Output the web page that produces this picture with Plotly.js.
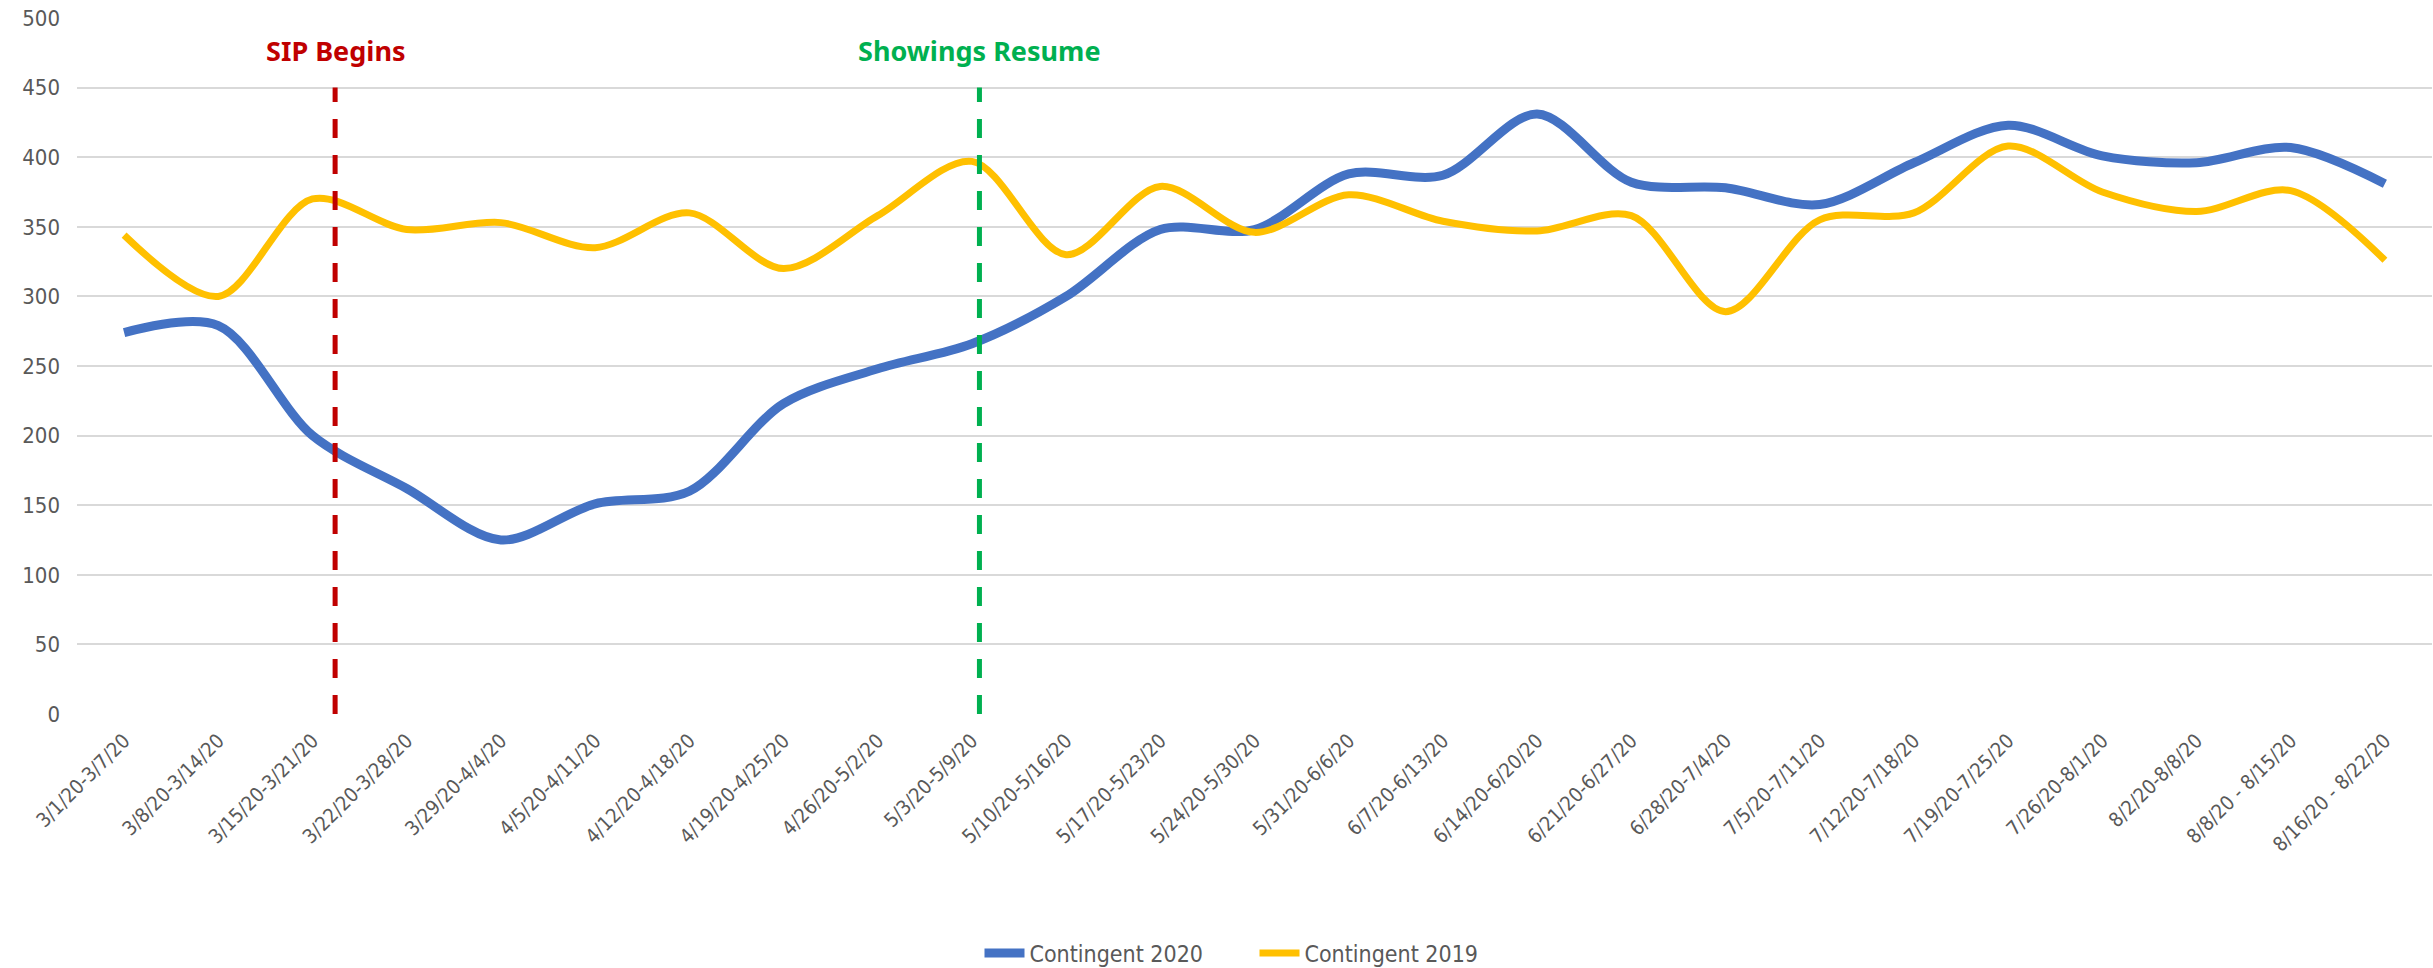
<!DOCTYPE html>
<html>
<head>
<meta charset="utf-8">
<script src="https://cdn.plot.ly/plotly-3.0.1.min.js"></script>
<style>html,body{margin:0;padding:0;background:#fff;}#chart{width:2433px;height:968px;}</style>
</head>
<body>
<div id="chart"></div>
<script>
const categories = ["3/1/20-3/7/20","3/8/20-3/14/20","3/15/20-3/21/20","3/22/20-3/28/20","3/29/20-4/4/20","4/5/20-4/11/20","4/12/20-4/18/20","4/19/20-4/25/20","4/26/20-5/2/20","5/3/20-5/9/20","5/10/20-5/16/20","5/17/20-5/23/20","5/24/20-5/30/20","5/31/20-6/6/20","6/7/20-6/13/20","6/14/20-6/20/20","6/21/20-6/27/20","6/28/20-7/4/20","7/5/20-7/11/20","7/12/20-7/18/20","7/19/20-7/25/20","7/26/20-8/1/20","8/2/20-8/8/20","8/8/20 - 8/15/20","8/16/20 - 8/22/20"];
const contingent2020 = [274, 279, 200, 162, 125, 151, 160, 223, 248, 266, 300, 348, 348, 388, 387, 431, 382, 378, 366, 396, 423, 401, 396, 407, 381];
const contingent2019 = [344, 300, 370, 348, 353, 335, 360, 320, 358, 397, 330, 379, 346, 373, 354, 347, 358, 289, 355, 360, 408, 375, 361, 376, 326];
const eventLabels = ["SIP Begins", "Showings Resume"];
const eventPositions = [2.24, 9.08];
const eventColors = ["#C00000", "#00B050"];
const eventTop = 450;
const labelValue = 477;

const FONT = "'DejaVu Sans Condensed', 'DejaVu Sans', sans-serif";
const traces = [
  {x: categories, y: contingent2020, type: "scatter", mode: "lines", name: "Contingent 2020",
   line: {color: "#4472C4", width: 9, shape: "spline", smoothing: 0.9}},
  {x: categories, y: contingent2019, type: "scatter", mode: "lines", name: "Contingent 2019",
   line: {color: "#FFC000", width: 7, shape: "spline", smoothing: 0.9}}
];
const shapes = eventPositions.map((p, i) => ({
  type: "line", xref: "x", yref: "y", x0: p, x1: p, y0: 0, y1: eventTop,
  line: {color: eventColors[i], width: 5, dash: "19px,17px"}, layer: "above"
}));
const annotations = eventPositions.map((p, i) => ({
  x: p, y: labelValue, xref: "x", yref: "y", text: "<b>" + eventLabels[i] + "</b>",
  showarrow: false, xanchor: "center", yanchor: "middle",
  font: {family: "'Noto Sans', sans-serif", size: 27, color: eventColors[i]}
}));
const layout = {
  width: 2433, height: 968,
  margin: {l: 77, r: 1, t: 18, b: 254, autoexpand: false},
  paper_bgcolor: "#fff", plot_bgcolor: "#fff",
  showlegend: true,
  legend: {orientation: "h", x: 0.5, xanchor: "center", yref: "container", y: 0.0155, yanchor: "middle",
           entrywidth: 220, itemwidth: 40,
           font: {family: FONT, size: 23, color: "#595959"}},
  xaxis: {type: "category", range: [-0.5, 24.5], showgrid: false, zeroline: false, showline: false,
          automargin: false, tickangle: -45, ticklabelstandoff: 10,
          tickfont: {family: FONT, size: 20, color: "#595959"}},
  yaxis: {range: [0, 500], dtick: 50, showgrid: true, gridcolor: "#D9D9D9", gridwidth: 2,
          automargin: false, zeroline: false, showline: false, ticklabelstandoff: 16,
          tickfont: {family: FONT, size: 22, color: "#595959"}},
  shapes: shapes, annotations: annotations, hovermode: false
};
Plotly.newPlot("chart", traces, layout, {displayModeBar: false, staticPlot: true});
</script>
</body>
</html>
